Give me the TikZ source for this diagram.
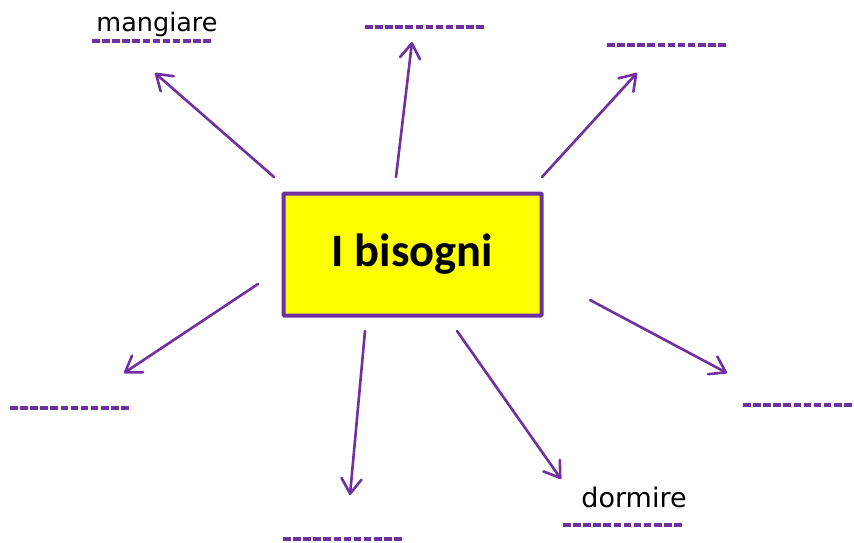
\documentclass[tikz,border=0pt]{standalone}
\usepackage{fontspec}
\setmainfont{Carlito}
\newfontfamily\labelfont{DejaVu Sans}
\usetikzlibrary{arrows.meta}
\definecolor{vio}{HTML}{7030A0}
\definecolor{boxyellow}{HTML}{FFFF00}
\tikzset{
  box/.style={draw=vio, line width=4pt, fill=boxyellow, rounded corners=1pt,
    minimum width=258pt, minimum height=122pt, inner sep=0pt,
    font=\fontsize{46.5}{50}\selectfont\bfseries},
  link/.style={draw=vio, line width=2.6pt, line cap=round,
    -{Straight Barb[length=15pt, width=20pt, line width=2.6pt, round]}},
  blank/.style={draw=vio, line width=3.2pt, dash pattern=on 7.6pt off 2.5pt},
  lbl/.style={font=\labelfont\fontsize{25.5}{28}\selectfont, anchor=base, inner sep=0pt}
}
\begin{document}
\begin{tikzpicture}[x=1pt,y=-1pt]
\useasboundingbox (0,0) rectangle (854,542);
\fill[white] (0,0) rectangle (854,542);
\node[box] (main) at (412.5,254.5) {I bisogni};

% arrow start and tip points
\coordinate (s1) at (274,177); \coordinate (t1) at (155,73);
\coordinate (s2) at (396,177); \coordinate (t2) at (412,42);
\coordinate (s3) at (542,177); \coordinate (t3) at (637,73);
\coordinate (s4) at (258,284); \coordinate (t4) at (124,373);
\coordinate (s5) at (590,300); \coordinate (t5) at (727,373);
\coordinate (s6) at (365,331); \coordinate (t6) at (350,495);
\coordinate (s7) at (457,331); \coordinate (t7) at (561,479);

\draw[link] (s1) -- (t1);
\draw[link] (s2) -- (t2);
\draw[link] (s3) -- (t3);
\draw[link] (s4) -- (t4);
\draw[link] (s5) -- (t5);
\draw[link] (s6) -- (t6);
\draw[link] (s7) -- (t7);

% blanks
\coordinate (b1a) at (92,41);  \coordinate (b1b) at (213,41);
\coordinate (b2a) at (365,27); \coordinate (b2b) at (486,27);
\coordinate (b3a) at (607,45); \coordinate (b3b) at (728,45);
\coordinate (b4a) at (10,408); \coordinate (b4b) at (131,408);
\coordinate (b5a) at (743,405); \coordinate (b5b) at (856,405);
\coordinate (b6a) at (283,539); \coordinate (b6b) at (404,539);
\coordinate (b7a) at (563,525); \coordinate (b7b) at (684,525);
\draw[blank] (b1a) -- (b1b);
\draw[blank] (b2a) -- (b2b);
\draw[blank] (b3a) -- (b3b);
\draw[blank] (b4a) -- (b4b);
\draw[blank] (b5a) -- (b5b);
\draw[blank] (b6a) -- (b6b);
\draw[blank] (b7a) -- (b7b);

\node[lbl] (l1) at (157,31) {mangiare};
\node[lbl, font=\labelfont\fontsize{27}{30}\selectfont] (l7) at (634,507) {dormire};
\end{tikzpicture}
\end{document}
